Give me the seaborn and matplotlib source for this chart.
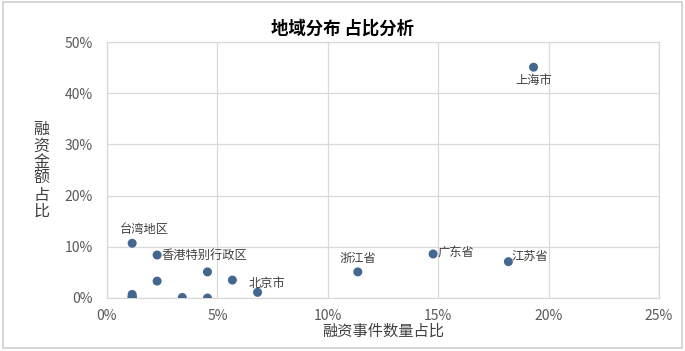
import matplotlib
matplotlib.use("Agg")
import matplotlib.pyplot as plt
import seaborn as sns
import pandas as pd
from matplotlib.ticker import PercentFormatter
from matplotlib.patches import Rectangle

# data: share of financing events (x) vs share of financing amount (y), in %
regions = ["上海市", "江苏省", "广东省", "浙江省", "北京市", "台湾地区", "香港特别行政区",
           "", "", "", "", "", "", "", "", ""]
event_share = [19.32, 18.18, 14.77, 11.36, 6.82, 1.14, 2.27,
               4.55, 5.68, 2.27, 3.41, 4.55, 1.14, 1.14, 1.14, 1.14]
amount_share = [45.1, 7.1, 8.6, 5.1, 1.1, 10.7, 8.4,
                5.1, 3.5, 3.3, 0.1, 0.0, 0.7, 0.35, 0.1, 0.0]
x_ticks = [0, 5, 10, 15, 20, 25]
y_ticks = [0, 10, 20, 30, 40, 50]

df = pd.DataFrame({"region": regions, "x": event_share, "y": amount_share})

sns.set_theme(style="white")
plt.rcParams["font.family"] = ["Noto Sans CJK SC", "DejaVu Sans"]

fig = plt.figure(figsize=(6.85, 3.51), dpi=100)
ax = fig.add_axes([0.1562, 0.151, 0.8058, 0.729])

sns.scatterplot(data=df, x="x", y="y", ax=ax, color="#44678F", s=42,
                edgecolor="none", zorder=3, legend=False)

ax.set_xlim(0, 25)
ax.set_ylim(0, 50)
ax.set_xticks(x_ticks)
ax.set_yticks(y_ticks)
ax.xaxis.set_major_formatter(PercentFormatter(decimals=0))
ax.yaxis.set_major_formatter(PercentFormatter(decimals=0))
ax.grid(True, color="#D9D9D9", linewidth=0.9)
ax.set_axisbelow(True)
for s in ax.spines.values():
    s.set_color("#D9D9D9")
    s.set_linewidth(0.9)
ax.tick_params(axis="both", length=0, labelsize=10, labelcolor="#595959")
ax.tick_params(axis="x", pad=8)
ax.tick_params(axis="y", pad=10)

ax.set_xlabel("融资事件数量占比", fontsize=11, color="#404040", labelpad=0)
ax.set_ylabel("")
fig.text(0.06, 0.514, "\n".join("融资金额占比"), fontsize=11.5, color="#404040",
         ha="center", va="center", linespacing=0.95)

fig.text(0.5, 0.918, "地域分布 占比分析", fontsize=12.5, fontweight="bold",
         color="#000000", ha="center", va="center")

# label placement (offsets in points, alignment)
label_style = {
    "上海市": ((0, -9.5), "center", "center"),
    "江苏省": ((2, 4), "left", "center"),
    "广东省": ((3.5, 1), "left", "center"),
    "浙江省": ((0, 9.5), "center", "center"),
    "北京市": ((6.5, 6.5), "center", "center"),
    "台湾地区": ((9, 10), "center", "center"),
    "香港特别行政区": ((3.5, 0), "left", "center"),
}
for _, r in df.iterrows():
    if r["region"] in label_style:
        off, ha, va = label_style[r["region"]]
        ax.annotate(r["region"], (r["x"], r["y"]), xytext=off,
                    textcoords="offset points", ha=ha, va=va,
                    fontsize=8.8, color="#404040")

fig.patches.append(Rectangle((0.004, 0.008), 0.992, 0.985, transform=fig.transFigure,
                             fill=False, edgecolor="#D0D0D0", linewidth=1.2))

fig.savefig("out.png", dpi=100)
